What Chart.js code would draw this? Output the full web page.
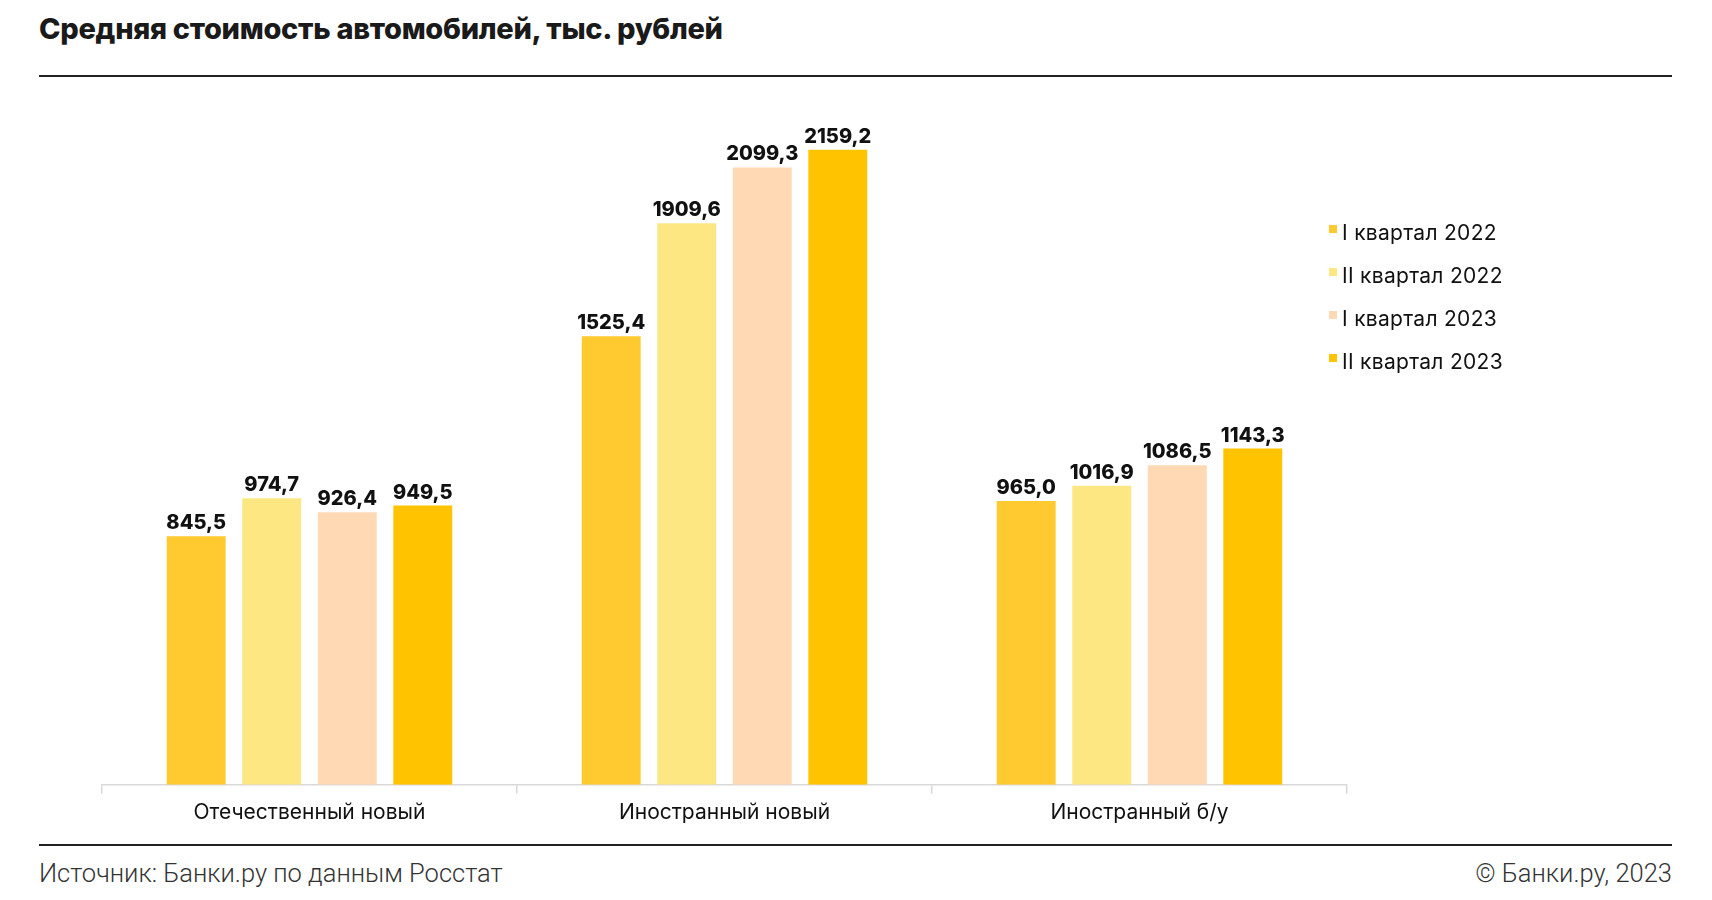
<!DOCTYPE html>
<html><head><meta charset="utf-8">
<script src="https://cdn.jsdelivr.net/npm/chart.js@4"></script>
<style>
html,body{margin:0;padding:0;background:#fff;width:1712px;height:900px;overflow:hidden;}
#wrap{position:absolute;left:0;top:0;width:1712px;height:900px;}
.title{position:absolute;left:39px;top:11px;font:800 29px Inter,sans-serif;color:#1a1a1a;letter-spacing:-0.3px;}
.hr{position:absolute;left:39px;width:1633px;height:1.5px;background:#222;}
.foot{position:absolute;top:858px;font:300 25.5px Roboto,sans-serif;color:#333;}
</style></head><body>
<div class="title">Средняя стоимость автомобилей, тыс. рублей</div>
<div class="hr" style="top:75px"></div>
<div class="hr" style="top:844px"></div>
<div class="foot" style="left:39px">Источник: Банки.ру по данным Росстат</div>
<div class="foot" style="right:40px">© Банки.ру, 2023</div>
<div id="wrap"><canvas id="c" width="1712" height="900"></canvas></div>
<script>
const categories = ['Отечественный новый', 'Иностранный новый', 'Иностранный б/у'];
const seriesNames = ['I квартал 2022', 'II квартал 2022', 'I квартал 2023', 'II квартал 2023'];
const q1_2022 = [845.5, 1525.4, 965.0];
const q2_2022 = [974.7, 1909.6, 1016.9];
const q1_2023 = [926.4, 2099.3, 1086.5];
const q2_2023 = [949.5, 2159.2, 1143.3];
const seriesColors = ['#FFC930', '#FCE783', '#FFD8B4', '#FFC300'];

const allSeries = [q1_2022, q2_2022, q1_2023, q2_2023];

const labelPlugin = {
  id: 'valLabels',
  afterDatasetsDraw(chart) {
    const ctx = chart.ctx;
    ctx.save();
    ctx.font = '800 20px Inter, sans-serif';
    ctx.fillStyle = '#111';
    ctx.textAlign = 'center';
    ctx.textBaseline = 'bottom';
    chart.data.datasets.forEach((ds, di) => {
      const meta = chart.getDatasetMeta(di);
      meta.data.forEach((bar, i) => {
        const v = ds.data[i];
        ctx.fillText(v.toFixed(1).replace('.', ','), bar.x, bar.y - 3);
      });
    });
    ctx.restore();
  }
};

const legendPlugin = {
  id: 'sideLegend',
  afterDraw(chart) {
    const ctx = chart.ctx;
    ctx.save();
    ctx.font = '400 21px Inter, sans-serif';
    try { ctx.letterSpacing = '0.3px'; } catch (e) {}
    ctx.textBaseline = 'alphabetic';
    ctx.textAlign = 'left';
    chart.data.datasets.forEach((ds, i) => {
      const y = 240 + i * 43;
      ctx.fillStyle = ds.backgroundColor;
      ctx.fillRect(1329, y - 15, 8, 8);
      ctx.fillStyle = '#111';
      ctx.fillText(ds.label, 1342, y);
    });
    ctx.restore();
  }
};

new Chart(document.getElementById('c'), {
  type: 'bar',
  data: {
    labels: categories,
    datasets: seriesNames.map((n, i) => ({
      label: n,
      data: allSeries[i],
      backgroundColor: seriesColors[i],
      borderWidth: 0,
      categoryPercentage: 0.728,
      barPercentage: 0.78
    }))
  },
  options: {
    responsive: false,
    animation: false,
    layout: { padding: { left: 102, right: 365, top: 79, bottom: 69 } },
    plugins: { legend: { display: false }, tooltip: { enabled: false } },
    scales: {
      x: {
        grid: { offset: true, drawOnChartArea: false, tickLength: 9, color: '#d9d9d9', lineWidth: 1.5 },
        border: { color: '#d9d9d9', width: 1.5 },
        ticks: { padding: 6, color: '#111', font: { family: 'Inter, sans-serif', size: 21, weight: '400' } }
      },
      y: { display: false, min: 0, max: 2400 }
    }
  },
  plugins: [labelPlugin, legendPlugin]
});
</script>
</body></html>
